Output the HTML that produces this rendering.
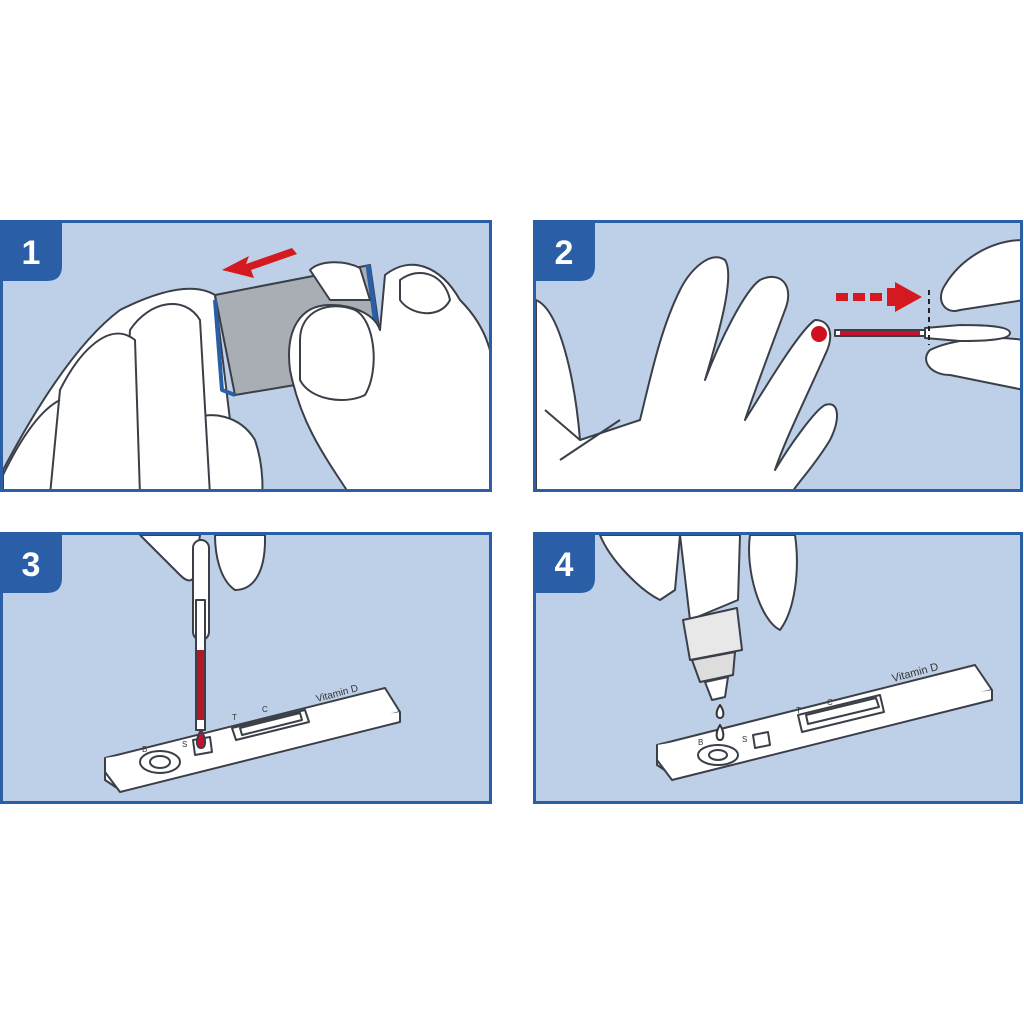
<!DOCTYPE html>
<html><head><style>
body{margin:0;background:#fff;width:1024px;height:1024px;overflow:hidden}
svg{display:block}
text{font-family:"Liberation Sans",sans-serif;stroke:none}
</style></head><body>
<svg width="1024" height="1024" viewBox="0 0 1024 1024">
<defs>
<clipPath id="c1"><rect x="3" y="223" width="486" height="266"/></clipPath>
<clipPath id="c2"><rect x="536" y="223" width="484" height="266"/></clipPath>
<clipPath id="c3"><rect x="3" y="535" width="486" height="266"/></clipPath>
<clipPath id="c4"><rect x="536" y="535" width="484" height="266"/></clipPath>
</defs>
<g fill="#bed0e8" stroke="#2a5fa8" stroke-width="3">
<rect x="1.5" y="221.5" width="489" height="269"/>
<rect x="534.5" y="221.5" width="487" height="269"/>
<rect x="1.5" y="533.5" width="489" height="269"/>
<rect x="534.5" y="533.5" width="487" height="269"/>
</g>
<g stroke="#3a3f48" stroke-width="2" fill="#fff" stroke-linejoin="round">
<g clip-path="url(#c1)">
<path d="M3 470 C40 400 80 340 120 310 C150 295 190 280 215 295 L230 420 C240 470 250 490 250 495 L3 495Z"/>
<path d="M215 295 L370 265 L385 370 L235 395Z" fill="#a9aeb5"/>
<path d="M215 300 L222 390 L235 395" fill="none" stroke="#2a5fa8" stroke-width="4"/>
<path d="M368 265 L382 370" fill="none" stroke="#2a5fa8" stroke-width="5"/>
<path d="M310 270 C320 260 345 260 360 268 L370 300 L330 300Z"/>
<path d="M385 275 C410 255 440 265 460 300 C490 330 495 360 495 400 L495 495 L350 495 C320 450 300 420 290 370 C285 330 300 305 330 305 C355 305 375 315 380 330Z"/>
<path d="M300 340 C300 310 330 300 355 310 C375 320 380 370 365 395 C345 405 310 400 300 380Z"/>
<path d="M400 280 C420 265 445 275 450 300 C440 320 410 315 400 300Z"/>
<path d="M190 420 C210 410 240 415 255 440 C265 470 262 495 262 495 L190 495Z"/>
<path d="M130 330 C150 300 185 295 200 320 L210 495 L120 495Z"/>
<path d="M60 390 C80 350 110 320 135 340 L140 495 L50 495Z"/>
<path d="M3 475 C20 440 40 410 60 400" fill="none"/>
</g>
<g clip-path="url(#c2)">
<path d="M536 300 C560 310 575 380 580 440 L640 420 C650 380 660 330 680 290 C690 270 710 250 725 260 C735 275 720 330 705 380 C720 340 745 290 760 280 C780 270 795 285 785 310 C770 350 755 390 745 420 C770 380 800 330 815 320 C830 320 835 335 825 355 C805 400 785 440 775 470 C790 445 815 410 825 405 C840 400 840 420 830 440 C815 465 800 480 790 495 L536 495Z"/>
<path d="M545 410 L580 440" fill="none"/>
<path d="M560 460 L620 420" fill="none"/>
<path d="M1024 240 C990 240 960 260 945 285 C935 300 945 315 960 310 L1024 300Z"/>
<path d="M1024 340 C990 335 950 340 930 350 C920 360 930 375 950 375 C975 380 1000 385 1024 390Z"/>
<rect x="835" y="330" width="90" height="6" fill="#fff"/>
<line x1="840" y1="333" x2="920" y2="333" stroke="#c8102e" stroke-width="4"/>
<path d="M925 328 L960 325 C975 325 1010 325 1010 333 C1010 341 975 341 960 341 L925 338Z"/>
</g>
<circle cx="819" cy="334" r="8" fill="#d0101e" stroke="none"/>
<line x1="929" y1="290" x2="929" y2="345" stroke="#222" stroke-dasharray="5,4"/>
<g fill="#d41920" stroke="none">
<rect x="836" y="293" width="12" height="8"/><rect x="853" y="293" width="12" height="8"/><rect x="870" y="293" width="12" height="8"/>
<path d="M887 288 L895 288 L895 282 L922 297 L895 312 L895 306 L887 306Z"/>
</g>
<path d="M292 248 L246 264 L249 256 L222 270 L254 278 L251 270 L297 254Z" fill="#d41920" stroke="none"/>
<g clip-path="url(#c3)">
<path d="M105 758 L385 688 L400 712 L120 790 L105 780Z" fill="#fff"/>
<path d="M105 758 L105 772 L120 792 L400 722 L400 712" fill="#fff"/>
<path d="M232 728 L305 710 L309 722 L236 740Z" fill="#fff"/>
<path d="M240 728 L300 713 L302 720 L242 735Z" fill="#fff"/>
<ellipse cx="160" cy="762" rx="20" ry="11" fill="#fff"/>
<ellipse cx="160" cy="762" rx="10" ry="6" fill="#fff"/>
<path d="M193 740 L210 737 L212 752 L195 755Z" fill="#fff"/>
<path d="M140 535 C150 545 165 560 180 575 C190 585 195 580 195 570 L200 535Z"/>
<path d="M215 535 C215 555 220 580 235 590 C255 590 265 570 265 540 L265 535Z"/>
<rect x="193" y="540" width="16" height="100" rx="8"/>
<rect x="196" y="600" width="9" height="130"/>
<rect x="197" y="650" width="7" height="70" fill="#b01a24" stroke="none"/>
</g>
<path d="M201 730 C195 740 196 748 201 748 C206 748 207 740 201 730Z" fill="#c8102e"/>
<text x="317" y="702" font-size="10" fill="#333" transform="rotate(-15 317 702)">Vitamin D</text>
<text x="232" y="720" font-size="8" fill="#333">T</text><text x="262" y="712" font-size="8" fill="#333">C</text>
<text x="142" y="752" font-size="8" fill="#333">B</text><text x="182" y="747" font-size="8" fill="#333">S</text>
<g clip-path="url(#c4)">
<path d="M657 745 L975 665 L992 690 L672 775 L657 765Z"/>
<path d="M657 745 L657 760 L672 780 L992 700 L992 690"/>
<path d="M798 715 L880 695 L884 712 L802 732Z"/>
<path d="M806 715 L876 698 L879 707 L808 724Z"/>
<ellipse cx="718" cy="755" rx="20" ry="10"/>
<ellipse cx="718" cy="755" rx="9" ry="5"/>
<path d="M753 735 L768 732 L770 745 L755 748Z"/>
<path d="M600 535 C610 560 640 590 660 600 L675 590 L680 535Z"/>
<path d="M750 535 C745 570 760 620 780 630 C795 610 800 570 795 535Z"/>
<path d="M680 535 L740 535 L738 600 L690 620Z"/>
<path d="M683 620 L737 608 L742 650 L690 660Z" fill="#e8e8e8"/>
<path d="M692 660 L735 652 L733 675 L700 682Z" fill="#ddd"/>
<path d="M705 682 L728 677 L725 697 L712 700Z"/>
</g>
<path d="M720 705 C715 712 716 718 720 718 C724 718 725 712 720 705Z" fill="#fff" stroke="#333"/>
<path d="M720 725 C715 733 716 740 720 740 C724 740 725 733 720 725Z" fill="#fff" stroke="#333"/>
<text x="893" y="682" font-size="11" fill="#333" transform="rotate(-15 893 682)">Vitamin D</text>
<text x="796" y="713" font-size="8" fill="#333">T</text><text x="827" y="705" font-size="8" fill="#333">C</text>
<text x="698" y="745" font-size="8" fill="#333">B</text><text x="742" y="742" font-size="8" fill="#333">S</text>
</g>
<g fill="#2a5fa8">
<path d="M0 220 H62 V266 Q62 281 47 281 H0Z"/>
<path d="M533 220 H595 V266 Q595 281 580 281 H533Z"/>
<path d="M0 532 H62 V578 Q62 593 47 593 H0Z"/>
<path d="M533 532 H595 V578 Q595 593 580 593 H533Z"/>
</g>
<g fill="#fff" font-size="34" font-weight="bold" text-anchor="middle">
<text x="31" y="264">1</text><text x="564" y="264">2</text>
<text x="31" y="576">3</text><text x="564" y="576">4</text>
</g>
</svg>
</body></html>
